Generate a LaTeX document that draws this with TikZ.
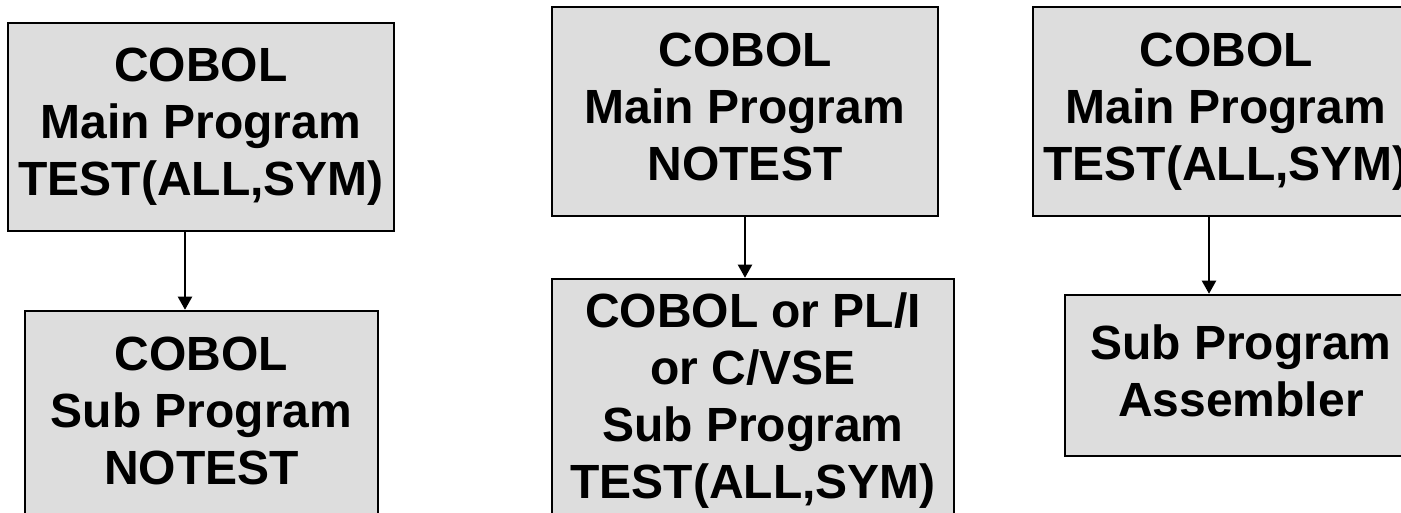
\documentclass[tikz,border=0pt]{standalone}
\usepackage{fontspec}
\setmainfont{Liberation Sans}
\usepackage{tikz}
\usetikzlibrary{arrows.meta}
\definecolor{boxgray}{RGB}{221,221,221}
\newcommand{\linestrut}{\rule[-0.212em]{0pt}{1.117em}}

\begin{document}
\begin{tikzpicture}[x=1pt,y=-1pt,
	prog/.style={draw,line width=2.5pt,fill=boxgray,align=center,inner sep=0pt,
		font=\bfseries\fontsize{48}{57}\selectfont,
		execute at begin node=\linestrut,execute at end node=\linestrut},
	call/.style={line width=2pt,-{Triangle[width=14pt,length=13pt]}}]
	\useasboundingbox (0,0) rectangle (1401,513);
	\clip (0,0) rectangle (1401,513);
	% left pair
	\node[prog,minimum width=386pt,minimum height=208pt] (main1) at (201,127) {COBOL\\Main Program\\TEST(ALL,SYM)};
	\node[prog,minimum width=353pt,minimum height=210pt] (sub1) at (201.5,416) {COBOL\\Sub Program\\NOTEST};
	% middle pair
	\node[prog,minimum width=386pt,minimum height=209pt] (main2) at (745,111.5) {COBOL\\Main Program\\NOTEST};
	\node[prog,minimum width=402pt,minimum height=244pt] (sub2) at (753,401) {COBOL or PL/I\\or C/VSE\\Sub Program\\TEST(ALL,SYM)};
	% right pair
	\node[prog,minimum width=386pt,minimum height=209pt] (main3) at (1226,111.5) {COBOL\\Main Program\\TEST(ALL,SYM)};
	\node[prog,minimum width=352pt,minimum height=161pt] (sub3) at (1241,375.5) {Sub Program\\Assembler};
	\draw[call] ([xshift=-16pt]main1.south) -- ([xshift=-16pt]main1.south |- sub1.north);
	\draw[call] (main2.south) -- (main2.south |- sub2.north);
	\draw[call] ([xshift=-17pt]main3.south) -- ([xshift=-17pt]main3.south |- sub3.north);
\end{tikzpicture}
\end{document}
